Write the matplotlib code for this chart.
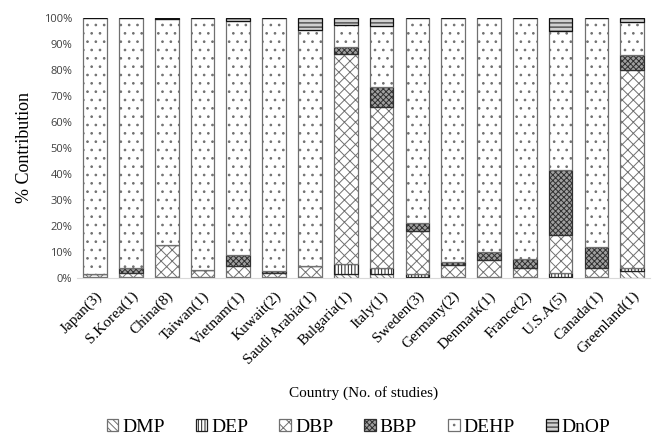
import numpy as np
import matplotlib
matplotlib.use('Agg')
import matplotlib.pyplot as plt

# % contribution of each phthalate
countries = ['Japan(3)', 'S.Korea(1)', 'China(8)', 'Taiwan(1)', 'Vietnam(1)',
             'Kuwait(2)', 'Saudi Arabia(1)', 'Bulgaria(1)', 'Italy(1)', 'Sweden(3)',
             'Germany(2)', 'Denmark(1)', 'France(2)', 'U.S.A(5)', 'Canada(1)',
             'Greenland(1)']
dmp = [0.2, 0.3, 0.3, 0.2, 0.2, 0.2, 0.2, 1.5, 1.5, 0.3, 0.2, 0.2, 0.5, 0.5, 0.3, 2.8]
dep = [0, 0, 0, 0, 0, 0, 0, 3.7, 2.5, 1.2, 0, 0, 0, 1.3, 0, 1.2]
dbp = [1.5, 1.5, 12.2, 2.8, 4.2, 1.7, 4.5, 80.8, 61.6, 16.7, 4.8, 6.7, 3.2, 14.6, 3.4, 76.0]
bbp = [0, 2.0, 0, 0, 4.3, 0.7, 0, 3.0, 7.7, 2.8, 1.1, 3.1, 3.5, 25.1, 8.3, 5.8]
dehp = [98.3, 96.2, 87.2, 97.0, 90.3, 97.4, 90.7, 8.3, 23.4, 79.0, 93.9, 90.0, 92.8, 53.5, 88.0, 12.7]
dnop = [0, 0, 0.3, 0, 1.0, 0, 4.6, 2.7, 3.3, 0, 0, 0, 0, 5.0, 0, 1.5]

series = [('DMP', dmp), ('DEP', dep), ('DBP', dbp), ('BBP', bbp), ('DEHP', dehp), ('DnOP', dnop)]
# face, hatch, edge
styles = {
    'DMP': ('white', '\\\\\\\\\\', '#707070'),
    'DEP': ('white', '|||||', '#202020'),
    'DBP': ('white', 'xxx', '#707070'),
    'BBP': ('#a0a0a0', 'xxxxxx', '#303030'),
    'DEHP': ('white', '..', '#707070'),
    'DnOP': ('#d0d0d0', '----', '#101010'),
}

plt.rcParams['hatch.linewidth'] = 0.7
serif = 'Liberation Serif'

fig = plt.figure(figsize=(6.54, 4.37), dpi=100)
ax = fig.add_axes([0.118, 0.364, 0.876, 0.595])

ind = np.arange(len(countries))
width = 0.66
bottom = np.zeros(len(countries))
handles = []
for name, vals in series:
    fc, h, ec = styles[name]
    vals = np.array(vals)
    b = ax.bar(ind, vals, width, bottom=bottom, color=fc, hatch=h,
               edgecolor=ec, linewidth=0.9, label=name)
    handles.append(b)
    bottom += vals

ax.set_xlim(-0.5, len(countries) - 0.5)
ax.set_ylim(0, 100)
ax.set_yticks(np.arange(0, 101, 10))
ax.set_yticklabels(['%d%%' % v for v in range(0, 101, 10)],
                   fontsize=8, family='Open Sans', color='#404040')
ax.set_xticks(ind)
ax.set_xticklabels(countries, rotation=45, ha='right', rotation_mode='anchor',
                   fontsize=11, family=serif)
ax.tick_params(axis='both', length=0)
ax.tick_params(axis='x', pad=8)
for s in ['top', 'right', 'left']:
    ax.spines[s].set_visible(False)
ax.spines['bottom'].set_color('#d9d9d9')

ax.set_ylabel('% Contribution', fontsize=13, family=serif, labelpad=8)
fig.text(0.556, 0.100, 'Country (No. of studies)', ha='center', va='center',
         fontsize=11, family=serif)

fig.legend(handles=handles, labels=[n for n, _ in series], loc='center',
           bbox_to_anchor=(0.548, 0.022), ncol=6, frameon=False,
           prop={'family': serif, 'size': 14}, handlelength=0.6,
           handleheight=0.6, handletextpad=0.2, columnspacing=1.6)

fig.savefig('out.png', dpi=100)
